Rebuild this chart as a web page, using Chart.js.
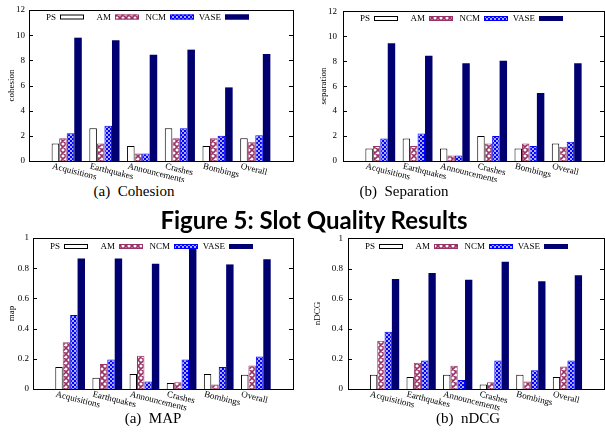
<!DOCTYPE html>
<html>
<head>
<meta charset="utf-8">
<script src="https://cdn.jsdelivr.net/npm/chart.js@4/dist/chart.umd.min.js"></script>
<style>
html,body{margin:0;padding:0;background:#fff}
#page{position:relative;width:605px;height:432px;overflow:hidden}
#page canvas{position:absolute}
.cap{position:absolute;width:240px;text-align:center;font-family:"Liberation Serif",serif;font-size:15px;line-height:15px;white-space:pre;color:#000}
.fig{position:absolute;left:114px;width:400px;top:208px;text-align:center;font-family:Lato,sans-serif;font-weight:700;font-size:24px;line-height:24px;color:#000}
</style>
</head>
<body>
<div id="page">
  <canvas id="cohesion" width="300" height="182" style="left:0;top:0"></canvas>
  <canvas id="separation" width="305" height="182" style="left:300px;top:0"></canvas>
  <canvas id="map" width="300" height="184" style="left:0;top:228px"></canvas>
  <canvas id="ndcg" width="305" height="184" style="left:300px;top:228px"></canvas>
  <div class="cap" style="left:14px;top:184px">(a)  Cohesion</div>
  <div class="cap" style="left:284px;top:184px">(b)  Separation</div>
  <div class="fig">Figure 5: Slot Quality Results</div>
  <div class="cap" style="left:33px;top:411px">(a)  MAP</div>
  <div class="cap" style="left:348px;top:411px">(b)  nDCG</div>
</div>
<script>
// categories and methods
const CATEGORIES = ['Acquisitions','Earthquakes','Announcements','Crashes','Bombings','Overall'];
const METHODS = ['PS','AM','NCM','VASE'];

// tick labels
const COUNT_TICKS = [0,2,4,6,8,10,12];
const SCORE_TICKS = [0,0.2,0.4,0.6,0.8,1];

// cohesion
const cohesionPS   = [1.4,2.6,1.2,2.6,1.2,1.8];
const cohesionAM   = [1.8,1.4,0.6,1.8,1.8,1.5];
const cohesionNCM  = [2.2,2.8,0.6,2.6,2.0,2.05];
const cohesionVASE = [9.8,9.6,8.45,8.85,5.85,8.5];

// separation
const separationPS   = [1.0,1.8,1.0,2.0,1.0,1.4];
const separationAM   = [1.2,1.2,0.45,1.4,1.4,1.15];
const separationNCM  = [1.8,2.2,0.45,2.0,1.2,1.55];
const separationVASE = [9.45,8.45,7.85,8.05,5.45,7.85];

// map
const mapPS   = [0.145,0.075,0.1,0.04,0.1,0.095];
const mapAM   = [0.31,0.165,0.22,0.045,0.03,0.155];
const mapNCM  = [0.49,0.195,0.05,0.195,0.145,0.215];
const mapVASE = [0.865,0.865,0.83,0.93,0.825,0.86];

// nDCG
const ndcgPS   = [0.095,0.08,0.095,0.03,0.095,0.08];
const ndcgAM   = [0.32,0.175,0.155,0.045,0.05,0.15];
const ndcgNCM  = [0.38,0.19,0.06,0.19,0.125,0.19];
const ndcgVASE = [0.73,0.77,0.725,0.845,0.715,0.755];

const MAROON = '#993366', BLUE = '#0000ff', NAVY = '#000070';
const SERIF = '"Liberation Serif", serif';

// fill patterns
function crossHatch(){
  const c = document.createElement('canvas'); c.width = c.height = 6;
  const g = c.getContext('2d');
  g.fillStyle = '#fff'; g.fillRect(0,0,6,6);
  g.strokeStyle = MAROON; g.lineWidth = 1.6; g.beginPath();
  for(let o=-6;o<=6;o+=6){ g.moveTo(o,0); g.lineTo(o+6,6); g.moveTo(o+6,0); g.lineTo(o,6); }
  g.stroke();
  return g.createPattern(c,'repeat');
}
function dots(){
  const c = document.createElement('canvas'); c.width = c.height = 4;
  const g = c.getContext('2d');
  g.fillStyle = BLUE; g.fillRect(0,0,4,4);
  g.fillStyle = '#fff';
  g.beginPath(); g.arc(1,1,0.9,0,Math.PI*2); g.arc(3,3,0.9,0,Math.PI*2); g.fill();
  return g.createPattern(c,'repeat');
}

// frame, inward ticks, slanted labels, y title and key (text before sample)
const gnuFrame = {
  id:'gnuFrame',
  afterDraw(chart, args, o){
    const {ctx, chartArea:a, scales:{x, y}} = chart;
    const L = Math.round(a.left), R = Math.round(a.right), T = Math.round(a.top), B = Math.round(a.bottom);
    ctx.save();
    ctx.strokeStyle = '#000'; ctx.lineWidth = 1;
    ctx.strokeRect(L+0.5, T+0.5, R-L, B-T);
    ctx.beginPath();
    y.ticks.forEach(t=>{
      const py = Math.round(y.getPixelForValue(t.value))+0.5;
      ctx.moveTo(L, py); ctx.lineTo(L+4, py);
      ctx.moveTo(R, py); ctx.lineTo(R-4, py);
    });
    ctx.stroke();

    ctx.fillStyle = '#000';
    ctx.font = '9px ' + SERIF;
    CATEGORIES.forEach((c,i)=>{
      const px = x.getPixelForValue(i);
      ctx.save();
      ctx.translate(px-15, B+7.5);
      ctx.rotate(14*Math.PI/180);
      ctx.textAlign = 'left'; ctx.textBaseline = 'alphabetic';
      ctx.fillText(c, 0, 0);
      ctx.restore();
    });

    ctx.save();
    ctx.translate(o.titleX, (T+B)/2);
    ctx.rotate(-Math.PI/2);
    ctx.textAlign = 'center'; ctx.textBaseline = 'middle';
    ctx.fillText(o.title, 0, 0);
    ctx.restore();

    chart.data.datasets.forEach((d,i)=>{
      const sx = L + 31 + i*55, sy = T + o.legendY;
      ctx.fillStyle = d.backgroundColor;
      ctx.fillRect(sx, sy, 24, 5);
      ctx.strokeStyle = d.borderColor;
      ctx.strokeRect(sx+0.5, sy+0.5, 23, 4);
      ctx.fillStyle = '#000';
      ctx.textAlign = 'right'; ctx.textBaseline = 'alphabetic';
      ctx.fillText(d.label, sx-4, sy+5);
    });
    ctx.restore();
  }
};

function makeChart(id, series, ticks, yMax, cfg){
  const fills = ['#fff', crossHatch(), dots(), NAVY];
  const borders = ['#000', MAROON, BLUE, NAVY];
  new Chart(document.getElementById(id), {
    type:'bar',
    data:{
      datasets: series.map((vals,k)=>({
        label: METHODS[k],
        data: vals.map((v,i)=>({x:i, y:v})),
        backgroundColor: fills[k],
        borderColor: borders[k],
        borderWidth: k===3 ? 0 : 1,
        categoryPercentage: 0.8,
        barPercentage: 1
      }))
    },
    plugins:[gnuFrame],
    options:{
      responsive:false, animation:false, devicePixelRatio:1,
      layout:{padding:{top:cfg.top, right:cfg.right, left:0, bottom:0}},
      plugins:{
        legend:{display:false}, tooltip:{enabled:false},
        gnuFrame:{title:cfg.title, titleX:cfg.titleX, legendY:cfg.legendY}
      },
      scales:{
        x:{type:'linear', min:-1, max:6, offset:false,
           ticks:{display:false, stepSize:1}, grid:{display:false}, border:{display:false},
           afterFit:s=>{ s.height = cfg.xHeight; }},
        y:{min:0, max:yMax,
           afterBuildTicks:s=>{ s.ticks = ticks.map(v=>({value:v})); },
           ticks:{callback:v=>String(v), padding:cfg.pad, color:'#000', font:{family:SERIF, size:9}},
           grid:{display:false, drawTicks:false}, border:{display:false},
           afterFit:s=>{ s.width = cfg.yWidth; }}
      }
    }
  });
}

makeChart('cohesion', [cohesionPS,cohesionAM,cohesionNCM,cohesionVASE], COUNT_TICKS, 12,
  {title:'cohesion', titleX:12, top:10, right:7, yWidth:29, xHeight:21, pad:4, legendY:4.5});
makeChart('separation', [separationPS,separationAM,separationNCM,separationVASE], COUNT_TICKS, 12,
  {title:'separation', titleX:24, top:9, right:1, yWidth:43, xHeight:21, pad:6, legendY:5});
makeChart('map', [mapPS,mapAM,mapNCM,mapVASE], SCORE_TICKS, 1,
  {title:'map', titleX:12, top:10, right:7, yWidth:33, xHeight:23, pad:4, legendY:6});
makeChart('ndcg', [ndcgPS,ndcgAM,ndcgNCM,ndcgVASE], SCORE_TICKS, 1,
  {title:'nDCG', titleX:18, top:10, right:1, yWidth:48, xHeight:23, pad:5, legendY:6});
</script>
</body>
</html>
